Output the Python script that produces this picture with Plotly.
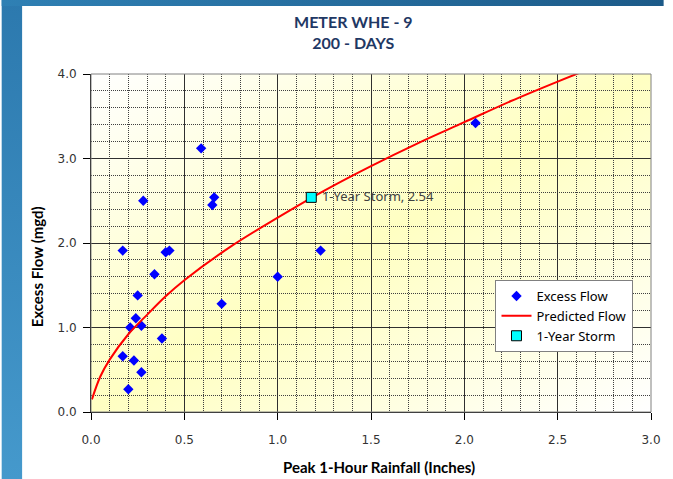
import base64

import plotly.graph_objects as go

# observed excess flow events
rain = [0.59, 0.28, 0.66, 0.65, 0.17, 0.40, 0.42, 0.34, 0.25, 0.70, 0.24,
        0.21, 0.27, 0.38, 0.17, 0.23, 0.27, 0.20, 1.00, 1.23, 2.06]
flow = [3.12, 2.50, 2.54, 2.45, 1.91, 1.89, 1.91, 1.63, 1.38, 1.28, 1.11,
        1.00, 1.02, 0.87, 0.66, 0.61, 0.47, 0.27, 1.60, 1.91, 3.42]

# predicted flow curve
pred_x = [0.005, 0.05, 0.1, 0.2, 0.3, 0.4, 0.5, 0.75, 1.0, 1.25, 1.5,
          1.75, 2.0, 2.25, 2.5, 2.75]
pred_y = [0.15, 0.42, 0.62, 0.92, 1.15, 1.37, 1.56, 1.96, 2.30, 2.62, 2.91,
          3.18, 3.43, 3.68, 3.91, 4.13]

storm_x = [1.18]
storm_y = [2.54]

x_ticks = [0.0, 0.5, 1.0, 1.5, 2.0, 2.5, 3.0]
y_ticks = [0.0, 1.0, 2.0, 3.0, 4.0]

W, H = 673, 479
L, R, T, B = 91, 13, 74, 67
PW, PH = W - L - R, H - T - B


def svg_uri(svg: str) -> str:
    return "data:image/svg+xml;base64," + base64.b64encode(svg.encode()).decode()


frame_svg = f"""<svg xmlns="http://www.w3.org/2000/svg" width="{W}" height="{H}" viewBox="0 0 {W} {H}" preserveAspectRatio="none">
<defs>
<linearGradient id="side" x1="0" y1="0" x2="0" y2="1">
<stop offset="0" stop-color="#2c79ae"/><stop offset="1" stop-color="#4599cc"/></linearGradient>
<linearGradient id="top" x1="0" y1="0" x2="1" y2="0">
<stop offset="0" stop-color="#2f80b4"/><stop offset="1" stop-color="#1c5a88"/></linearGradient>
</defs>
<rect width="{W}" height="{H}" fill="#ffffff"/>
<rect x="0" y="0" width="21" height="{H}" fill="url(#side)"/>
<rect x="0" y="0" width="{W}" height="6" fill="url(#top)"/>
</svg>"""

plot_svg = """<svg xmlns="http://www.w3.org/2000/svg" width="100" height="100" viewBox="0 0 100 100" preserveAspectRatio="none">
<defs><linearGradient id="g" x1="0" y1="0" x2="1" y2="1">
<stop offset="0" stop-color="#ffffff"/><stop offset="0.5" stop-color="#ffffc2"/><stop offset="1" stop-color="#ffffff"/>
</linearGradient></defs>
<rect width="100" height="100" fill="url(#g)"/>
</svg>"""

fig = go.Figure()

fig.add_trace(go.Scatter(
    x=rain, y=flow, mode="markers", name="Excess Flow",
    marker=dict(symbol="diamond", size=8, color="#0000ff"),
))
fig.add_trace(go.Scatter(
    x=pred_x, y=pred_y, mode="lines", name="Predicted Flow",
    line=dict(color="#ff0000", width=2, shape="spline"),
))
fig.add_trace(go.Scatter(
    x=storm_x, y=storm_y, mode="markers+text", name="1-Year Storm",
    marker=dict(symbol="square", size=10, color="#00ffff",
                line=dict(color="#000000", width=1)),
    text=[f" 1-Year Storm, {v:.2f}" for v in storm_y],
    textposition="middle right",
    textfont=dict(family="Noto Sans", size=13, color="#404040"),
))

axis_common = dict(
    showline=True, linecolor="#000000", linewidth=1,
    ticks="outside", ticklen=7, tickcolor="#000000",
    showgrid=True, gridcolor="#303030", gridwidth=1,
    zeroline=False,
    tickfont=dict(family="DejaVu Sans", size=12, color="#333333"),
    tickformat=".1f",
)
minor_grid = dict(showgrid=True, griddash="1px,1px", gridcolor="#404040",
                  gridwidth=1, ticks="")

fig.update_xaxes(
    range=[0, 3], tickvals=x_ticks, ticklabelstandoff=10,
    minor=dict(dtick=0.1, **minor_grid),
    **axis_common,
)
fig.update_yaxes(
    range=[0, 4], tickvals=y_ticks, ticklabelstandoff=4,
    minor=dict(dtick=0.2, **minor_grid),
    **axis_common,
)

fig.add_shape(type="rect", xref="paper", yref="paper", x0=0, y0=0, x1=1, y1=1,
              line=dict(color="#808080", width=1), layer="above")

fig.add_annotation(
    text="Peak 1-Hour Rainfall (Inches)", xref="paper", yref="paper",
    x=0.515, y=-0.162, xanchor="center", yanchor="middle", showarrow=False,
    font=dict(family="Lato", size=15, color="#000000", weight="bold"),
)
fig.add_annotation(
    text="Excess Flow (mgd)", xref="paper", yref="paper", textangle=-90,
    x=-0.097, y=0.43, xanchor="center", yanchor="middle", showarrow=False,
    font=dict(family="Lato", size=15, color="#000000", weight="bold"),
)

fig.update_layout(
    width=W, height=H,
    margin=dict(l=L, r=R, t=T, b=B),
    paper_bgcolor="#ffffff",
    plot_bgcolor="rgba(0,0,0,0)",
    title=dict(
        text="METER WHE - 9<br>200 - DAYS",
        x=0.525, xref="container", xanchor="center",
        y=1 - 28 / H, yref="container", yanchor="top",
        font=dict(family="Lato", size=16, color="#1f3864", weight="bold"),
    ),
    showlegend=True,
    legend=dict(
        x=(502 - L) / PW, y=(T + PH - 280) / PH, xanchor="left", yanchor="top",
        bgcolor="#ffffff", bordercolor="#808080", borderwidth=1,
        font=dict(family="Noto Sans", size=13, color="#000000"),
        tracegroupgap=0, itemwidth=30,
    ),
    images=[
        dict(source=svg_uri(frame_svg), xref="paper", yref="paper",
             x=-L / PW, y=1 + T / PH, sizex=W / PW, sizey=H / PH,
             xanchor="left", yanchor="top", sizing="stretch", layer="below"),
        dict(source=svg_uri(plot_svg), xref="paper", yref="paper",
             x=0, y=1, sizex=1, sizey=1,
             xanchor="left", yanchor="top", sizing="stretch", layer="below"),
    ],
)

# drop the default page margin so the figure fills the window
fig.write_html("out.html", config={"displayModeBar": False},
               post_script="document.body.style.margin = '0';")
